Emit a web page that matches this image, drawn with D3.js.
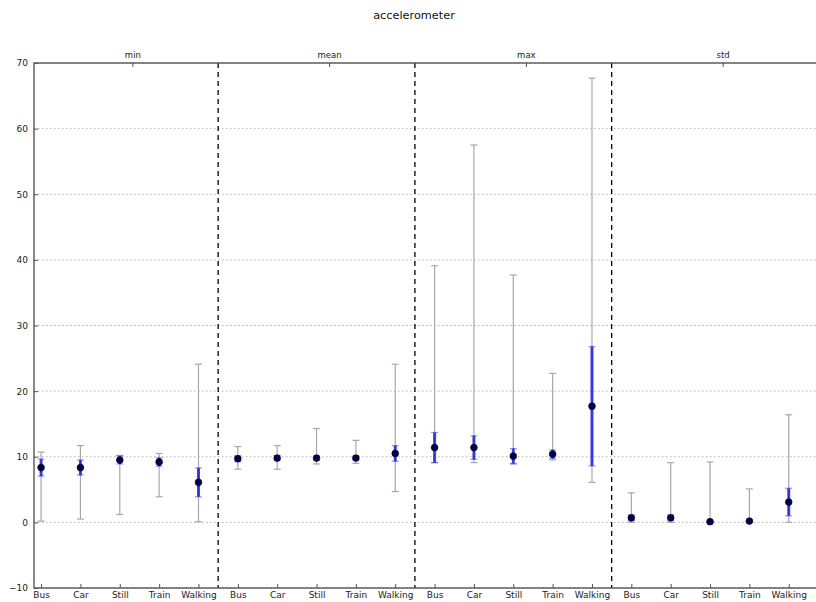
<!DOCTYPE html>
<html>
<head>
<meta charset="utf-8">
<script src="https://cdn.jsdelivr.net/npm/d3@7"></script>
<style>
  html, body { margin: 0; padding: 0; background: #fff; }
  svg { display: block; font-family: "DejaVu Sans", sans-serif; }
</style>
</head>
<body>
<svg id="chart" width="816" height="602"></svg>
<script>
// Summary statistics of accelerometer magnitude per transport mode.
const title = "accelerometer";
const features = ["min", "mean", "max", "std"];
const modes = ["Bus", "Car", "Still", "Train", "Walking"];
const yTicks = [-10, 0, 10, 20, 30, 40, 50, 60, 70];

// One entry per (feature, mode), features in order, modes in order.
const centers = [
  8.35, 8.35, 9.5, 9.2, 6.1,
  9.7, 9.8, 9.8, 9.8, 10.5,
  11.4, 11.4, 10.1, 10.4, 17.7,
  0.7, 0.7, 0.1, 0.2, 3.1
];
const spreads = [
  1.3, 1.15, 0.6, 0.65, 2.2,
  0.45, 0.4, 0.3, 0.3, 1.2,
  2.3, 1.8, 1.15, 0.65, 9.1,
  0.45, 0.45, 0.1, 0.15, 2.1
];
const lows = [
  0.2, 0.5, 1.2, 3.9, 0.1,
  8.1, 8.1, 8.9, 9.0, 4.7,
  9.1, 9.1, 8.9, 9.5, 6.1,
  0.0, 0.0, 0.0, 0.0, 0.0
];
const highs = [
  10.7, 11.7, 10.2, 10.5, 24.1,
  11.55, 11.7, 14.3, 12.5, 24.1,
  39.1, 57.5, 37.7, 22.7, 67.7,
  4.5, 9.1, 9.2, 5.1, 16.4
];

const svg = d3.select("#chart");
const plot = { left: 34, right: 821, top: 63, bottom: 588 };

const n = features.length * modes.length;
const points = d3.range(n).map(i => ({
  i,
  label: modes[i % modes.length],
  c: centers[i], s: spreads[i], lo: lows[i], hi: highs[i]
}));

const x = d3.scaleLinear().domain([-0.18, n - 0.18]).range([plot.left, plot.right]);
const y = d3.scaleLinear().domain([-10, 70]).range([plot.bottom, plot.top]);
const xTop = d3.scaleLinear().domain([0, 1]).range([plot.left, plot.right]);

// Horizontal dotted grid
svg.append("g")
  .selectAll("line")
  .data(yTicks)
  .join("line")
  .attr("x1", plot.left).attr("x2", plot.right)
  .attr("y1", d => y(d)).attr("y2", d => y(d))
  .attr("stroke", "#b0b0b0")
  .attr("stroke-width", 1)
  .attr("stroke-dasharray", "1.5,2.5");

// Dashed separators between feature groups
svg.append("g")
  .selectAll("line")
  .data(d3.range(1, features.length))
  .join("line")
  .attr("x1", d => x(d * modes.length - 0.5)).attr("x2", d => x(d * modes.length - 0.5))
  .attr("y1", plot.top).attr("y2", plot.bottom)
  .attr("stroke", "#000")
  .attr("stroke-width", 1.3)
  .attr("stroke-dasharray", "5,4");

// Full range whiskers
const capHalf = 3.5;
const gRange = svg.append("g").attr("stroke", "#a8a8a8").attr("stroke-width", 1.2);
gRange.selectAll("line.bar").data(points).join("line").attr("class", "bar")
  .attr("x1", d => x(d.i)).attr("x2", d => x(d.i))
  .attr("y1", d => y(d.lo)).attr("y2", d => y(d.hi));
gRange.selectAll("line.capHi").data(points).join("line").attr("class", "capHi")
  .attr("x1", d => x(d.i) - capHalf).attr("x2", d => x(d.i) + capHalf)
  .attr("y1", d => y(d.hi)).attr("y2", d => y(d.hi));
gRange.selectAll("line.capLo").data(points).join("line").attr("class", "capLo")
  .attr("x1", d => x(d.i) - capHalf).attr("x2", d => x(d.i) + capHalf)
  .attr("y1", d => y(d.lo)).attr("y2", d => y(d.lo));

// Spread bars (center ± spread)
const gSpread = svg.append("g");
gSpread.selectAll("line.bar").data(points).join("line").attr("class", "bar")
  .attr("x1", d => x(d.i)).attr("x2", d => x(d.i))
  .attr("y1", d => y(d.c - d.s)).attr("y2", d => y(d.c + d.s))
  .attr("stroke", "rgba(20,20,220,0.8)").attr("stroke-width", 3);
["hi", "lo"].forEach(side => {
  gSpread.selectAll("line.cap" + side).data(points).join("line").attr("class", "cap" + side)
    .attr("x1", d => x(d.i) - capHalf).attr("x2", d => x(d.i) + capHalf)
    .attr("y1", d => y(side === "hi" ? d.c + d.s : d.c - d.s))
    .attr("y2", d => y(side === "hi" ? d.c + d.s : d.c - d.s))
    .attr("stroke", "rgba(60,60,230,0.55)").attr("stroke-width", 1.2);
});

// Center markers
svg.append("g")
  .selectAll("circle")
  .data(points)
  .join("circle")
  .attr("cx", d => x(d.i)).attr("cy", d => y(d.c))
  .attr("r", 3.4)
  .attr("fill", "#000050")
  .attr("stroke", "#000")
  .attr("stroke-width", 0.6);

// Frame
svg.append("rect")
  .attr("x", plot.left).attr("y", plot.top)
  .attr("width", plot.right - plot.left).attr("height", plot.bottom - plot.top)
  .attr("fill", "none").attr("stroke", "#555").attr("stroke-width", 1.4);

// Left axis
const yAxis = d3.axisLeft(y).tickValues(yTicks).tickSizeInner(-4).tickSizeOuter(0).tickPadding(6)
  .tickFormat(d => d < 0 ? "\u2212" + Math.abs(d) : String(d));
const gy = svg.append("g").attr("transform", `translate(${plot.left},0)`).call(yAxis);
gy.select(".domain").remove();
gy.selectAll("line").attr("stroke", "#555");
gy.selectAll("text").attr("font-size", 9).attr("fill", "#222").attr("font-family", "DejaVu Sans");

// Bottom axis: mode labels
const xAxis = d3.axisBottom(x).tickValues(d3.range(n)).tickSizeInner(-4).tickSizeOuter(0).tickPadding(4)
  .tickFormat(i => modes[i % modes.length]);
const gx = svg.append("g").attr("transform", `translate(0,${plot.bottom})`).call(xAxis);
gx.select(".domain").remove();
gx.selectAll("line").attr("stroke", "#555");
gx.selectAll("text").attr("font-size", 9).attr("fill", "#222").attr("font-family", "DejaVu Sans");

// Top axis: feature names
const topAxis = d3.axisTop(xTop).tickValues(features.map((f, k) => (k + 0.5) / features.length))
  .tickSizeInner(-4).tickSizeOuter(0).tickPadding(5)
  .tickFormat((d, k) => features[k]);
const gt = svg.append("g").attr("transform", `translate(0,${plot.top})`).call(topAxis);
gt.select(".domain").remove();
gt.selectAll("line").attr("stroke", "#555");
gt.selectAll("text").attr("font-size", 8.5).attr("fill", "#222").attr("font-family", "DejaVu Sans");

// Title
svg.append("text")
  .attr("x", 414).attr("y", 19)
  .attr("text-anchor", "middle")
  .attr("font-size", 11.3)
  .attr("fill", "#111")
  .text(title);
</script>
</body>
</html>
